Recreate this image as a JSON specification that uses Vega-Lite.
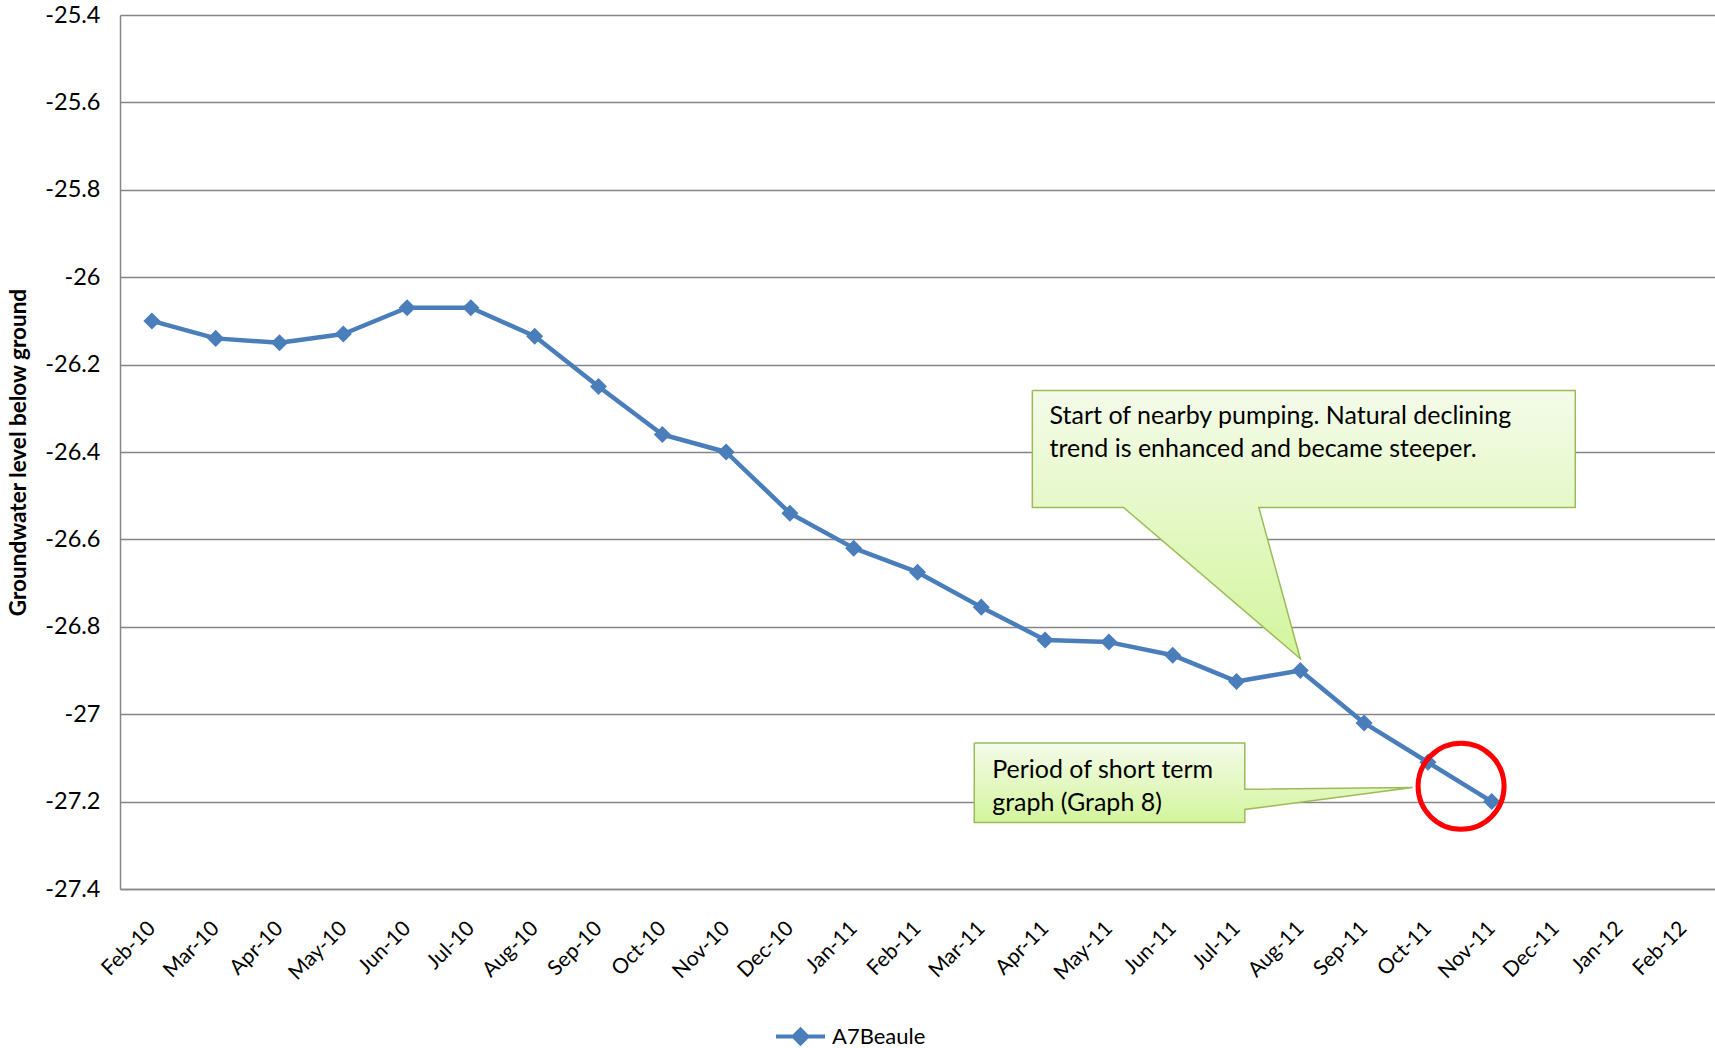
{
  "$schema": "https://vega.github.io/schema/vega-lite/v6.json",
  "width": 1595,
  "height": 874,
  "autosize": {"type": "none"},
  "padding": {"left": 120, "top": 15, "right": 0, "bottom": 159},
  "background": "white",
  "config": {"view": {"stroke": null}, "font": "Lato"},
  "datasets": {
    "levels": [
      {"month": "Feb-10", "i": 0, "level": -26.10},
      {"month": "Mar-10", "i": 1, "level": -26.14},
      {"month": "Apr-10", "i": 2, "level": -26.15},
      {"month": "May-10", "i": 3, "level": -26.13},
      {"month": "Jun-10", "i": 4, "level": -26.07},
      {"month": "Jul-10", "i": 5, "level": -26.07},
      {"month": "Aug-10", "i": 6, "level": -26.135},
      {"month": "Sep-10", "i": 7, "level": -26.25},
      {"month": "Oct-10", "i": 8, "level": -26.36},
      {"month": "Nov-10", "i": 9, "level": -26.40},
      {"month": "Dec-10", "i": 10, "level": -26.54},
      {"month": "Jan-11", "i": 11, "level": -26.62},
      {"month": "Feb-11", "i": 12, "level": -26.675},
      {"month": "Mar-11", "i": 13, "level": -26.755},
      {"month": "Apr-11", "i": 14, "level": -26.83},
      {"month": "May-11", "i": 15, "level": -26.835},
      {"month": "Jun-11", "i": 16, "level": -26.865},
      {"month": "Jul-11", "i": 17, "level": -26.925},
      {"month": "Aug-11", "i": 18, "level": -26.90},
      {"month": "Sep-11", "i": 19, "level": -27.02},
      {"month": "Oct-11", "i": 20, "level": -27.11},
      {"month": "Nov-11", "i": 21, "level": -27.20}
    ],
    "callouts": [
      {"shape": "pumping", "k": 0, "i": 13.8, "level": -26.259},
      {"shape": "pumping", "k": 1, "i": 22.31, "level": -26.259},
      {"shape": "pumping", "k": 2, "i": 22.31, "level": -26.527},
      {"shape": "pumping", "k": 3, "i": 17.35, "level": -26.527},
      {"shape": "pumping", "k": 4, "i": 18.0, "level": -26.873},
      {"shape": "pumping", "k": 5, "i": 15.23, "level": -26.527},
      {"shape": "pumping", "k": 6, "i": 13.8, "level": -26.527},
      {"shape": "pumping", "k": 7, "i": 13.8, "level": -26.259},
      {"shape": "period", "k": 0, "i": 12.89, "level": -27.066},
      {"shape": "period", "k": 1, "i": 17.13, "level": -27.066},
      {"shape": "period", "k": 2, "i": 17.13, "level": -27.172},
      {"shape": "period", "k": 3, "i": 19.76, "level": -27.168},
      {"shape": "period", "k": 4, "i": 17.13, "level": -27.218},
      {"shape": "period", "k": 5, "i": 17.13, "level": -27.248},
      {"shape": "period", "k": 6, "i": 12.89, "level": -27.248},
      {"shape": "period", "k": 7, "i": 12.89, "level": -27.066}
    ],
    "notes": [
      {"i": 14.07, "level": -26.3175, "note": "Start of nearby pumping. Natural declining"},
      {"i": 14.07, "level": -26.3925, "note": "trend is enhanced and became steeper."},
      {"i": 13.17, "level": -27.1275, "note": "Period of short term"},
      {"i": 13.17, "level": -27.2025, "note": "graph (Graph 8)"}
    ],
    "focus": [
      {"i": 20.52, "level": -27.165}
    ]
  },
  "layer": [
    {
      "data": {"name": "levels"},
      "mark": {
        "type": "line",
        "strokeWidth": 4.5,
        "strokeJoin": "round",
        "point": {"shape": "diamond", "size": 290, "filled": true, "opacity": 1}
      },
      "encoding": {
        "x": {
          "field": "i",
          "type": "quantitative",
          "scale": {"domain": [-0.5, 24.5], "nice": false, "zero": false},
          "axis": {
            "title": null,
            "values": [0, 1, 2, 3, 4, 5, 6, 7, 8, 9, 10, 11, 12, 13, 14, 15, 16, 17, 18, 19, 20, 21, 22, 23, 24],
            "labelExpr": "['Feb-10','Mar-10','Apr-10','May-10','Jun-10','Jul-10','Aug-10','Sep-10','Oct-10','Nov-10','Dec-10','Jan-11','Feb-11','Mar-11','Apr-11','May-11','Jun-11','Jul-11','Aug-11','Sep-11','Oct-11','Nov-11','Dec-11','Jan-12','Feb-12'][datum.value]",
            "labelAngle": -45,
            "labelAlign": "right",
            "labelBaseline": "middle",
            "labelPadding": 36,
            "labelFont": "Lato",
            "labelFontSize": 21,
            "labelColor": "#000000",
            "labelOverlap": false,
            "labelFlush": false,
            "ticks": false,
            "tickSize": 0,
            "grid": false,
            "domainColor": "#868686",
            "domainWidth": 1.5
          }
        },
        "y": {
          "field": "level",
          "type": "quantitative",
          "scale": {"domain": [-27.4, -25.4], "nice": false, "zero": false},
          "axis": {
            "title": "Groundwater level below ground",
            "titleFont": "Lato",
            "titleFontSize": 22.5,
            "titleFontWeight": "bold",
            "titleColor": "#000000",
            "titleAngle": -90,
            "titleX": -102,
            "titleY": 437,
            "titleAlign": "center",
            "titleBaseline": "middle",
            "values": [-27.4, -27.2, -27, -26.8, -26.6, -26.4, -26.2, -26, -25.8, -25.6, -25.4],
            "labelExpr": "'' + datum.value",
            "labelPadding": 20,
            "labelFont": "Lato",
            "labelFontSize": 23.5,
            "labelColor": "#000000",
            "labelOverlap": false,
            "labelFlush": false,
            "ticks": false,
            "tickSize": 0,
            "grid": true,
            "gridColor": "#868686",
            "gridWidth": 1.3,
            "domainColor": "#868686",
            "domainWidth": 1.5
          }
        },
        "color": {
          "datum": "A7Beaule",
          "type": "nominal",
          "scale": {"range": ["#4a7ebb"]},
          "legend": {
            "title": null,
            "orient": "none",
            "legendX": 654,
            "legendY": 995,
            "direction": "horizontal",
            "padding": 0,
            "symbolType": "M-1,0L1,0M0,-0.28L0.28,0L0,0.28L-0.28,0Z",
            "symbolSize": 2401,
            "symbolStrokeWidth": 4,
            "symbolStrokeColor": "#4a7ebb",
            "symbolFillColor": "#4a7ebb",
            "labelFont": "Lato",
            "labelFontSize": 22,
            "labelColor": "#000000",
            "labelOffset": 5
          }
        }
      }
    },
    {
      "data": {"name": "callouts"},
      "mark": {
        "type": "line",
        "fill": {
          "gradient": "linear",
          "x1": 0, "y1": 0, "x2": 0, "y2": 1,
          "stops": [
            {"offset": 0, "color": "#f4fbea"},
            {"offset": 1, "color": "#d3f59c"}
          ]
        },
        "stroke": "#9bbb59",
        "strokeWidth": 1.5,
        "strokeJoin": "miter"
      },
      "encoding": {
        "x": {"field": "i", "type": "quantitative"},
        "y": {"field": "level", "type": "quantitative"},
        "detail": {"field": "shape"},
        "order": {"field": "k"}
      }
    },
    {
      "data": {"name": "focus"},
      "mark": {
        "type": "point",
        "shape": "circle",
        "size": 7400,
        "filled": false,
        "opacity": 1,
        "stroke": "#ff0000",
        "strokeWidth": 5
      },
      "encoding": {
        "x": {"field": "i", "type": "quantitative"},
        "y": {"field": "level", "type": "quantitative"}
      }
    },
    {
      "data": {"name": "notes"},
      "mark": {
        "type": "text",
        "align": "left",
        "baseline": "middle",
        "font": "Lato",
        "fontSize": 25,
        "color": "#000000"
      },
      "encoding": {
        "x": {"field": "i", "type": "quantitative"},
        "y": {"field": "level", "type": "quantitative"},
        "text": {"field": "note"}
      }
    }
  ]
}
